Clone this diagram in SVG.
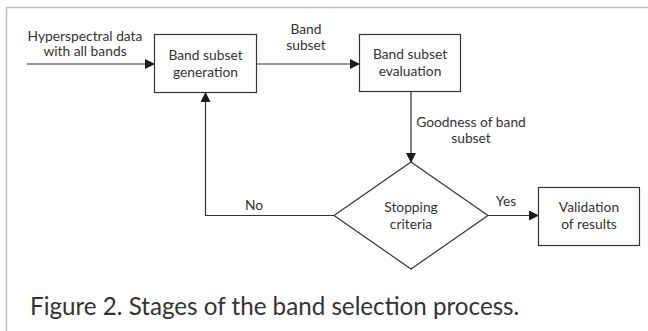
<svg xmlns="http://www.w3.org/2000/svg" width="648" height="331" viewBox="0 0 648 331">
<defs>
<marker id="ah" markerWidth="10" markerHeight="10" refX="9" refY="5" orient="auto" markerUnits="userSpaceOnUse">
<path d="M0,0 L10,5 L0,10 Z" fill="#1a1a1a"/>
</marker>
<style>
.t{font-family:Lato,"Open Sans","Liberation Sans",sans-serif;font-size:13.8px;fill:#333;text-anchor:middle}
.box{fill:#fff;stroke:#333;stroke-width:1.2}
.ln{fill:none;stroke:#333;stroke-width:1.2}
.cap{font-family:Lato,"Open Sans","Liberation Sans",sans-serif;font-size:24.2px;fill:#333}
</style>
</defs>
<rect width="648" height="331" fill="#fff"/>
<path d="M6.5,331 L6.5,7.5 L648,7.5" fill="none" stroke="#bdbdbd" stroke-width="1.5"/>
<g id="connectors">
<line class="ln" x1="27" y1="64" x2="154" y2="64" marker-end="url(#ah)"/>
<line class="ln" x1="257" y1="64" x2="359" y2="64" marker-end="url(#ah)"/>
<line class="ln" x1="411" y1="92" x2="411" y2="162" marker-end="url(#ah)"/>
<polyline class="ln" points="334,215.5 205.5,215.5 205.5,93" marker-end="url(#ah)"/>
<line class="ln" x1="488" y1="215.5" x2="538" y2="215.5" marker-end="url(#ah)"/>
<text class="t" x="85" y="40.5">Hyperspectral data</text>
<text class="t" x="85" y="56">with all bands</text>
<text class="t" x="306" y="34">Band</text>
<text class="t" x="306" y="50">subset</text>
<text class="t" x="471" y="127">Goodness of band</text>
<text class="t" x="471" y="143">subset</text>
<text class="t" x="254" y="210">No</text>
<text class="t" x="506" y="206">Yes</text>
</g>
<g id="gen">
<rect class="box" x="154.5" y="34.5" width="102" height="58"/>
<text class="t" x="205.5" y="60">Band subset</text>
<text class="t" x="205.5" y="77">generation</text>
</g>
<g id="eval">
<rect class="box" x="359.5" y="34.5" width="101" height="57"/>
<text class="t" x="410" y="59">Band subset</text>
<text class="t" x="410" y="76">evaluation</text>
</g>
<g id="stop">
<polygon class="box" points="411,162 488,215.5 411,269 334,215.5"/>
<text class="t" x="411" y="212">Stopping</text>
<text class="t" x="411" y="229">criteria</text>
</g>
<g id="valid">
<rect class="box" x="538.5" y="187.5" width="101" height="58"/>
<text class="t" x="589" y="212">Validation</text>
<text class="t" x="589" y="229">of results</text>
</g>
<text class="cap" x="30" y="315">Figure 2. Stages of the band selection process.</text>
</svg>
